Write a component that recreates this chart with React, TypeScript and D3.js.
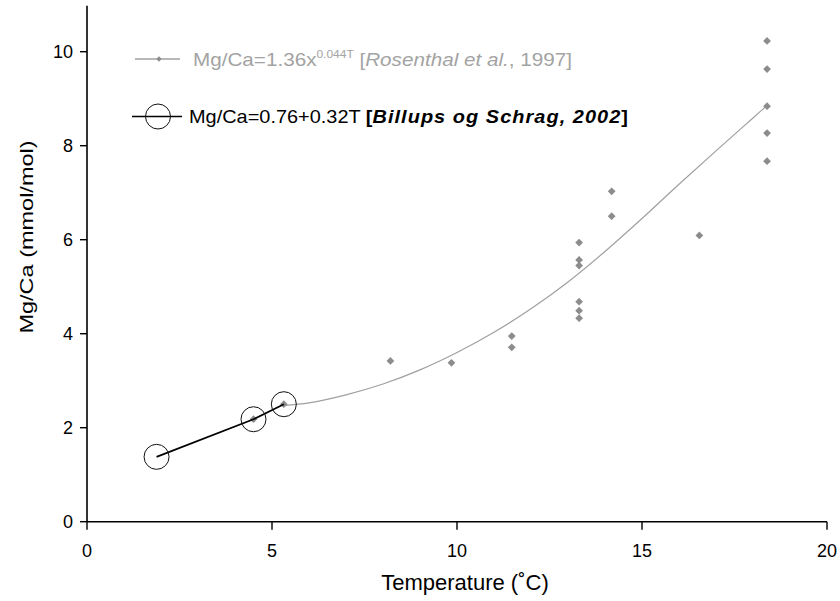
import React from "react";
import * as d3 from "d3";

// Rosenthal et al. 1997 data points (temperature °C, Mg/Ca mmol/mol)
const rosenthalT = [4.5, 5.32, 8.2, 9.85, 11.48, 11.48, 13.3, 13.3, 13.3, 13.3, 13.3, 13.3, 14.18, 14.18, 16.55, 18.38, 18.38, 18.38, 18.38, 18.38];
const rosenthalV = [2.18, 2.5, 3.42, 3.38, 3.95, 3.71, 5.94, 5.57, 5.45, 4.68, 4.49, 4.33, 7.03, 6.5, 6.09, 10.23, 9.63, 8.84, 8.27, 7.67];

// Fitted curve
const curveT = [5.3, 6, 7, 8, 9, 10, 11, 12, 13, 14, 15, 16, 17, 18, 18.4];
const curveV = [2.47, 2.53, 2.7, 2.93, 3.23, 3.6, 4.03, 4.53, 5.1, 5.75, 6.45, 7.18, 7.89, 8.59, 8.87];

// Billups & Schrag 2002
const billupsT = [1.88, 4.5, 5.32];
const billupsV = [1.38, 2.18, 2.5];

const xTicks = [0, 5, 10, 15, 20];
const yTicks = [0, 2, 4, 6, 8, 10];

const FONT = "'Liberation Sans', Arial, Helvetica, sans-serif";
const GRAY_PT = "#8c8c8c";
const GRAY_LINE = "#a0a0a0";
const GRAY_TXT = "#a3a3a3";

export default function App() {
  const W = 840, H = 601;
  const x = d3.scaleLinear().domain([0, 20]).range([87, 827]);
  const y = d3.scaleLinear().domain([0, 10]).range([521.7, 51.7]);

  const curvePts: [number, number][] = curveT.map((t, i) => [t, curveV[i]]);
  const curveLine = d3
    .line<[number, number]>()
    .x((d) => x(d[0]))
    .y((d) => y(d[1]))
    .curve(d3.curveMonotoneX);

  const billupsLine = d3
    .line<number>()
    .x((d) => x(billupsT[d]))
    .y((d) => y(billupsV[d]));

  const diamond = d3.symbol(d3.symbolSquare, 30)() || "";
  const diamondSmall = d3.symbol(d3.symbolSquare, 14)() || "";

  return (
    <svg width={W} height={H} style={{ position: "absolute", left: 0, top: 0, background: "#fff" }} fontFamily={FONT}>
      <rect x={0} y={0} width={W} height={H} fill="#fff" />
      {/* axes */}
      <line x1={x(0)} x2={x(0)} y1={y(10.98)} y2={y(0)} stroke="#000" strokeWidth={1.6} />
      <line x1={x(0)} x2={x(20)} y1={y(0)} y2={y(0)} stroke="#000" strokeWidth={1.6} />
      {yTicks.map((t) => (
        <g key={"y" + t}>
          <line x1={x(0) - 7} x2={x(0)} y1={y(t)} y2={y(t)} stroke="#000" strokeWidth={1.4} />
          <text x={x(0) - 14} y={y(t)} dy="0.36em" textAnchor="end" fontSize={18} fill="#000">
            {t}
          </text>
        </g>
      ))}
      {xTicks.map((t) => (
        <g key={"x" + t}>
          <line x1={x(t)} x2={x(t)} y1={y(0)} y2={y(0) + 8} stroke="#000" strokeWidth={1.4} />
          <text x={x(t)} y={556.5} textAnchor="middle" fontSize={18} fill="#000">
            {t}
          </text>
        </g>
      ))}
      <text x={465} y={590} textAnchor="middle" fontSize={22} fill="#000">
        Temperature (˚C)
      </text>
      <text transform={`translate(33,237) rotate(-90) scale(1,0.78)`} textAnchor="middle" fontSize={23.5} fill="#000">
        Mg/Ca (mmol/mol)
      </text>

      {/* fitted curve */}
      <path d={curveLine(curvePts) || ""} fill="none" stroke={GRAY_LINE} strokeWidth={1.2} />

      {/* Rosenthal points */}
      {rosenthalT.map((t, i) => (
        <path key={"r" + i} d={diamond} transform={`translate(${x(t)},${y(rosenthalV[i])}) rotate(45)`} fill={GRAY_PT} />
      ))}

      {/* Billups line and circles */}
      <path d={billupsLine([0, 1, 2]) || ""} fill="none" stroke="#000" strokeWidth={1.7} />
      {billupsT.map((t, i) => (
        <circle key={"b" + i} cx={x(t)} cy={y(billupsV[i])} r={12.5} fill="none" stroke="#111" strokeWidth={1} />
      ))}

      {/* legend */}
      <line x1={135} x2={180} y1={59} y2={59} stroke={GRAY_LINE} strokeWidth={1.3} />
      <path d={diamondSmall} transform="translate(159,59) rotate(45)" fill={GRAY_PT} />
      <text x={193} y={65.5} fontSize={19} fill={GRAY_TXT} textLength={379} lengthAdjust="spacingAndGlyphs">
        Mg/Ca=1.36x
        <tspan fontSize={11} dy={-8}>0.044T</tspan>
        <tspan dy={8}> [</tspan>
        <tspan fontStyle="italic">Rosenthal et al.</tspan>
        <tspan>, 1997]</tspan>
      </text>

      <line x1={132} x2={182} y1={116.5} y2={116.5} stroke="#000" strokeWidth={1.4} />
      <circle cx={158} cy={116.5} r={12.5} fill="none" stroke="#111" strokeWidth={1} />
      <text x={189} y={123} fontSize={19} fill="#000" textLength={439} lengthAdjust="spacingAndGlyphs">
        Mg/Ca=0.76+0.32T{" "}
        <tspan fontWeight="bold">[</tspan>
        <tspan fontWeight="bold" fontStyle="italic" letterSpacing={1}>Billups og Schrag, 2002</tspan>
        <tspan fontWeight="bold">]</tspan>
      </text>
    </svg>
  );
}
